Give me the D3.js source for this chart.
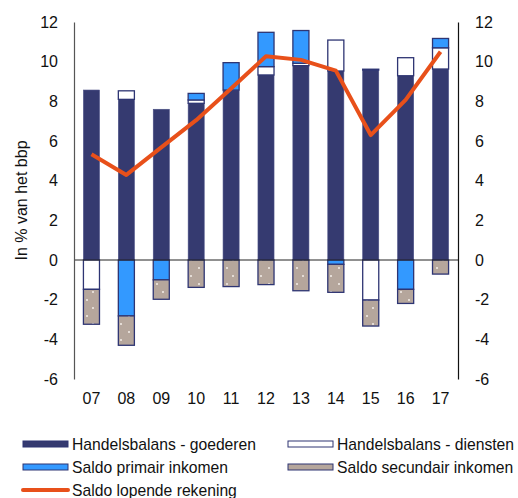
<!DOCTYPE html>
<html>
<head>
<meta charset="utf-8">
<script src="https://cdn.jsdelivr.net/npm/d3@7"></script>
<style>
  body { margin: 0; background: #fff; }
  svg { font-family: "Liberation Sans", Arial, sans-serif; }
</style>
</head>
<body>
<div id="chart"></div>
<script>
const years = ["07", "08", "09", "10", "11", "12", "13", "14", "15", "16", "17"];
const goederen = [8.57, 8.1, 7.6, 7.9, 8.57, 9.33, 9.8, 9.53, 9.58, 9.29, 9.63];
const diensten = [-1.48, 0.43, 0, 0.17, 0, 0.42, 0.12, 1.56, -2.02, 0.91, 1.07];
const primair = [0, -2.82, -1.0, 0.33, 1.38, 1.73, 1.65, -0.22, 0.04, -1.48, 0.47];
const secundair = [-1.76, -1.48, -0.98, -1.38, -1.34, -1.24, -1.55, -1.41, -1.31, -0.71, -0.71];
const lopend = [5.33, 4.29, 5.68, 7.05, 8.65, 10.27, 10.09, 9.55, 6.3, 8.07, 10.5];
const yTicks = [-6, -4, -2, 0, 2, 4, 6, 8, 10, 12];

const seriesKeys = ["goederen", "diensten", "primair", "secundair"];
const seriesNames = {
    goederen: "Handelsbalans - goederen",
    diensten: "Handelsbalans - diensten",
    primair: "Saldo primair inkomen",
    secundair: "Saldo secundair inkomen"
};
const fills = {
    goederen: "#353a70",
    diensten: "#ffffff",
    primair: "#3399ff",
    secundair: "url(#dots)"
};
const lineColor = "#e8501a";

const rows = years.map((y, i) => ({
    year: y,
    goederen: goederen[i],
    diensten: diensten[i],
    primair: primair[i],
    secundair: secundair[i],
    lopend: lopend[i]
}));

const width = 518;
const height = 498;
const margin = { top: 22, right: 60, bottom: 119, left: 74 };

const svg = d3.select("#chart")
    .append("svg")
    .attr("width", width)
    .attr("height", height);

// dotted fill for secundair inkomen
const pat = svg.append("defs").append("pattern")
    .attr("id", "dots")
    .attr("patternUnits", "userSpaceOnUse")
    .attr("width", 14)
    .attr("height", 16);
pat.append("rect").attr("width", 14).attr("height", 16).attr("fill", "#b5a69c");
pat.append("circle").attr("cx", 9).attr("cy", 4).attr("r", 1).attr("fill", "#f4eeea");
pat.append("circle").attr("cx", 3).attr("cy", 12).attr("r", 1).attr("fill", "#f4eeea");

const x = d3.scaleBand()
    .domain(years)
    .range([margin.left, width - margin.right])
    .paddingInner(0.54)
    .paddingOuter(0.27);

const y = d3.scaleLinear()
    .domain([-6, 12])
    .range([height - margin.bottom, margin.top]);

const stack = d3.stack()
    .keys(seriesKeys)
    .offset(d3.stackOffsetDiverging);
const stacked = stack(rows);

svg.append("g")
    .selectAll("g")
    .data(stacked)
    .join("g")
    .attr("fill", d => fills[d.key])
    .attr("stroke", d => d.key === "goederen" ? "#4a4f85" : "#2e3573")
    .attr("stroke-width", d => d.key === "goederen" ? 0.6 : 1.3)
    .selectAll("rect")
    .data(d => d.filter(p => Math.abs(p[1] - p[0]) > 0))
    .join("rect")
    .attr("x", d => x(d.data.year))
    .attr("width", x.bandwidth())
    .attr("y", d => y(Math.max(d[0], d[1])))
    .attr("height", d => Math.abs(y(d[0]) - y(d[1])));

// zero line
svg.append("line")
    .attr("x1", margin.left)
    .attr("x2", width - margin.right)
    .attr("y1", y(0))
    .attr("y2", y(0))
    .attr("stroke", "#222")
    .attr("stroke-width", 1);

// axes (plain hyphen for negatives, as in the original)
const fmt = d => String(d);
const leftAxis = svg.append("g")
    .attr("transform", `translate(${margin.left},0)`)
    .call(d3.axisLeft(y).tickValues(yTicks).tickFormat(fmt).tickSize(0).tickPadding(16));
const rightAxis = svg.append("g")
    .attr("transform", `translate(${width - margin.right},0)`)
    .call(d3.axisRight(y).tickValues(yTicks).tickFormat(fmt).tickSize(0).tickPadding(17));
[leftAxis, rightAxis].forEach(a => {
    a.select(".domain").attr("stroke", "#555").attr("stroke-width", 1.2);
    a.selectAll("text").attr("font-size", 16).attr("fill", "#111")
        .attr("font-family", "Liberation Sans, Arial, sans-serif");
});
rightAxis.select(".domain").attr("stroke", "#111");

const xAxis = svg.append("g")
    .attr("transform", `translate(0,${height - margin.bottom})`)
    .call(d3.axisBottom(x).tickSize(0).tickPadding(14));
xAxis.select(".domain").remove();
xAxis.selectAll("text").attr("font-size", 16).attr("fill", "#111")
    .attr("font-family", "Liberation Sans, Arial, sans-serif");

// y title
svg.append("text")
    .attr("transform", `translate(27,${y(3)}) rotate(-90)`)
    .attr("text-anchor", "middle")
    .attr("font-size", 16)
    .attr("fill", "#111")
    .text("In % van het bbp");

// saldo lopende rekening
const line = d3.line()
    .x(d => x(d.year) + x.bandwidth() / 2)
    .y(d => y(d.lopend));

svg.append("path")
    .datum(rows)
    .attr("fill", "none")
    .attr("stroke", lineColor)
    .attr("stroke-width", 4)
    .attr("stroke-linejoin", "round")
    .attr("d", line);

// legend
const legendItems = [
    { key: "goederen", col: 0, row: 0 },
    { key: "diensten", col: 1, row: 0 },
    { key: "primair", col: 0, row: 1 },
    { key: "secundair", col: 1, row: 1 },
    { key: "lopend", col: 0, row: 2 }
];
const colX = [23, 288];
const rowY = [444, 467, 490];

const legend = svg.append("g");
legendItems.forEach(item => {
    const g = legend.append("g")
        .attr("transform", `translate(${colX[item.col]},${rowY[item.row]})`);
    if (item.key === "lopend") {
        g.append("line")
            .attr("x1", 0).attr("x2", 45)
            .attr("stroke", lineColor)
            .attr("stroke-width", 4)
            .attr("stroke-linecap", "round");
    } else {
        g.append("rect")
            .attr("x", 0).attr("y", -3)
            .attr("width", 45).attr("height", 6)
            .attr("fill", item.key === "secundair" ? "#b5a69c" : fills[item.key])
            .attr("stroke", "#2e3573")
            .attr("stroke-width", 1);
    }
    g.append("text")
        .attr("x", 49)
        .attr("dy", "0.35em")
        .attr("font-size", 15.7)
        .attr("fill", "#111")
        .text(item.key === "lopend" ? "Saldo lopende rekening" : seriesNames[item.key]);
});
</script>
</body>
</html>
